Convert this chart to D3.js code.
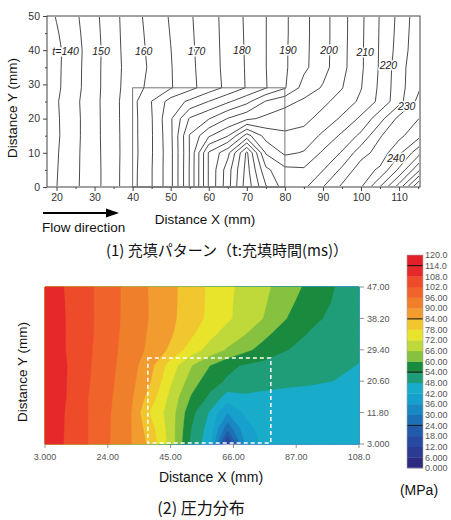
<!DOCTYPE html>
<html><head><meta charset="utf-8">
<script src="https://cdn.jsdelivr.net/npm/d3@7"></script>
<style>body{margin:0;background:#fff}svg{display:block}</style>
</head><body>
<svg id="c" width="451" height="520"></svg>
<script>
// ================= DATA =================
// (1) fill-time field t (ms) on a grid: columns = X (mm), rows = Y (mm), top row first
const fillX = [17.5,20,25,30,35,40,45,50,55,60,65,70,75,80,85,90,95,100,105,110,115.5];
const fillY = [50,45,40,35,29,25,20,15,10,5,0];
const fillTime = [
  [138.3,140.3,144.2,148.8,153.6,158.0,161.9,165.5,169.4,173.0,176.8,180.8,184.9,189.2,193.7,198.1,203.3,209.0,215.3,221.3,228.5],
  [137.8,139.5,143.7,148.5,153.5,157.8,161.5,165.2,169.2,172.9,176.7,180.7,184.9,189.2,193.7,198.1,203.3,209.1,215.4,221.6,228.8],
  [137.3,138.8,143.3,148.2,153.4,157.6,161.2,164.9,169.0,172.8,176.6,180.6,184.9,189.3,193.8,198.1,203.4,209.2,215.5,222.0,229.0],
  [137.4,138.9,143.4,148.4,153.3,157.4,160.9,164.7,168.8,172.7,176.5,180.5,184.9,189.3,193.9,198.2,203.5,209.2,215.6,222.8,229.5],
  [137.7,139.0,143.5,148.4,153.4,157.7,161.6,164.6,168.5,172.5,176.2,180.4,184.7,189.6,197.0,200.5,204.8,209.8,216.0,223.0,229.8],
  [138.0,139.5,144.0,148.6,153.5,158.4,165.1,172.1,176.0,180.1,184.2,188.6,195.4,198.3,200.9,203.8,207.1,211.0,216.3,223.3,232.0],
  [137.8,139.3,143.8,148.5,153.5,158.3,164.7,174.3,185.5,189.7,195.2,198.9,201.2,202.9,203.6,206.8,210.8,216.0,223.1,231.5,235.2],
  [137.8,139.2,143.8,148.5,153.4,158.3,164.6,173.8,190.4,199.3,204.7,217.0,208.0,205.8,206.7,211.0,216.0,221.2,229.6,233.7,239.0],
  [138.0,139.5,144.0,148.4,153.4,158.2,164.6,173.5,190.3,210.5,218.5,236.0,214.5,209.0,210.4,215.8,220.5,227.9,232.2,238.8,249.0],
  [138.0,139.7,144.1,148.3,153.4,158.4,164.8,173.5,190.5,210.5,222.6,237.0,221.2,216.3,215.7,219.8,226.0,232.8,235.8,246.0,260.0],
  [138.0,139.9,144.2,148.3,153.4,158.5,164.8,173.5,190.5,210.5,223.0,238.0,225.5,217.5,219.0,224.9,231.0,234.6,245.2,257.4,276.5]
];
const fillLevels = d3.range(140, 281, 5);
const labelText = ["t=140","150","160","170","180","190","200","210","220","230","240"];
const labelX = [22.4,31.7,42.9,56.8,68.7,80.8,91.6,101.1,107.2,112.0,109.2];
const labelY = [39.6,39.6,39.6,39.6,39.9,39.9,39.9,39.4,35.7,23.7,8.5];
const cavityX = [40, 80];
const cavityY = [0, 29];
const xTicks1 = [20,30,40,50,60,70,80,90,100,110];
const xMinor1 = [25,35,45,55,65,75,85,95,105,115];
const yTicks1 = [0,10,20,30,40,50];
const yMinor1 = [5,15,25,35,45];

// (2) pressure field P (MPa) on a grid: columns = X (mm), rows = Y (mm), top row first
const presX = [3,10,17,24,31,38,45,52,58,64,70,76,84,92,100,108];
const presY = [47,42.6,38.2,33.8,29.4,25,20.6,16.2,11.8,7.4,3];
const pressure = [
  [113,107.4,103.5,98.9,94.1,89.6,85.5,81.0,77.0,73.2,70.2,67.4,62.8,58.1,53.9,52.5],
  [113,107.7,103.5,98.9,94.1,89.7,85.4,80.9,76.9,73.0,69.8,66.8,61.4,56.7,53.4,51.8],
  [113,107.9,103.6,98.8,94.1,89.7,85.3,80.7,76.7,72.9,69.4,65.9,59.9,55.2,52.7,51.0],
  [113,107.9,103.6,98.6,93.8,89.3,84.7,78.9,73.7,69.6,66.1,61.5,56.7,53.4,51.7,50.0],
  [113,107.9,103.3,98.3,93.5,88.8,82.8,75.0,69.8,65.3,61.3,58.0,54.1,52.3,50.7,49.0],
  [113,108.3,103.1,97.9,93.0,86.3,75.0,66.2,60.2,55.5,53.3,52.3,51.0,50.1,49.1,47.8],
  [113,108.2,102.8,97.5,92.7,84.5,72.8,63.0,56.5,53.2,51.7,50.6,49.4,48.6,47.9,46.5],
  [113,108.1,102.3,97.1,92.1,81.6,70.3,59.3,53.0,45.5,47.0,46.3,46.0,46.2,46.6,47.0],
  [113,107.6,102.3,96.8,91.5,77.8,69.0,55.6,47.5,36.0,43.0,44.6,45.0,45.2,45.3,45.5],
  [113,107.5,102.3,96.6,91.3,80.7,69.1,53.8,45.5,26.0,40.0,44.0,44.8,45.0,45.2,45.3],
  [113,107.3,102.3,96.6,91.1,82.6,69.3,52.0,44.5,10.0,36.5,43.5,44.5,45.0,45.2,45.3]
];
const presLevels = d3.range(0, 120, 6);
const presColors = ["#2e2a82","#2b3a93","#27499f","#225ba9","#1d70b5","#1a88c2","#17a0cc","#18abca",
  "#1f9d78","#1a8a3e","#86c240","#bfd83a","#e8e42c","#f1c62e","#f29c30","#f07f2c","#f0632b","#ee4b2a","#e5282a","#e3202a"];
const presXTicks = [3,24,45,66,87,108];
const presXLabels = ["3.000","24.00","45.00","66.00","87.00","108.0"];
const presYTicks = [3,11.8,20.6,29.4,38.2,47];
const presYLabels = ["3.000","11.80","20.60","29.40","38.20","47.00"];
const barValues = d3.range(120, -1, -6);
const barLabels = ["120.0","114.0","108.0","102.0","96.00","90.00","84.00","78.00","72.00","66.00","60.00",
  "54.00","48.00","42.00","36.00","30.00","24.00","18.00","12.00","6.000","0.000"];
const barRules = [24, 54, 84, 114];
const insertX = [37.4, 78.5];
const insertY = [3, 27.1];

// ================= DRAW =================
const svg = d3.select("#c");
const SANS = "'Liberation Sans', Arial, sans-serif";
const CJK = "'Noto Sans CJK JP', 'Noto Sans CJK SC', sans-serif";

function mapper(xs, ys, sx, sy) {
  const ix = d3.scaleLinear().domain(d3.range(xs.length)).range(xs);
  const iy = d3.scaleLinear().domain(d3.range(ys.length)).range(ys);
  const nx = xs.length - 1, ny = ys.length - 1;
  return p => [sx(ix(Math.max(0, Math.min(nx, p[0] - 0.5)))), sy(iy(Math.max(0, Math.min(ny, p[1] - 0.5))))];
}
function geomPath(g, m) {
  return g.coordinates.map(poly => poly.map(ring =>
    "M" + ring.map(p => m(p).map(v => v.toFixed(2)).join(",")).join("L") + "Z").join("")).join("");
}

// ---------- chart 1 ----------
const x1 = d3.scaleLinear().domain([17.5, 115.5]).range([47, 420]);
const y1 = d3.scaleLinear().domain([0, 50]).range([187, 16]);
const defs = svg.append("defs");
defs.append("clipPath").attr("id", "clip1").append("rect")
  .attr("x", x1(17.5) + 1).attr("y", y1(50) + 1)
  .attr("width", x1(115.5) - x1(17.5) - 2).attr("height", y1(0) - y1(50) - 2);

const cont1 = d3.contours().size([fillX.length, fillY.length]).thresholds(fillLevels)(fillTime.flat());
const m1 = mapper(fillX, fillY, x1, y1);
svg.append("g").attr("clip-path", "url(#clip1)")
  .selectAll("path").data(cont1).join("path")
  .attr("d", d => geomPath(d, m1))
  .attr("fill", "none").attr("stroke", "#2b2b2b").attr("stroke-width", 0.85).attr("stroke-linejoin", "round");

// cavity rectangle
svg.append("rect")
  .attr("x", x1(cavityX[0])).attr("y", y1(cavityY[1]))
  .attr("width", x1(cavityX[1]) - x1(cavityX[0])).attr("height", y1(cavityY[0]) - y1(cavityY[1]))
  .attr("fill", "none").attr("stroke", "#666").attr("stroke-width", 0.9);

// contour labels
svg.append("g").selectAll("text").data(labelText).join("text")
  .attr("x", (d, i) => x1(labelX[i])).attr("y", (d, i) => y1(labelY[i]) + 3.8)
  .attr("text-anchor", "middle").attr("font-family", SANS).attr("font-style", "italic")
  .attr("font-size", 10.5).attr("fill", "#222")
  .attr("stroke", "#fff").attr("stroke-width", 3).attr("paint-order", "stroke")
  .text(d => d);

// frame
svg.append("rect").attr("x", x1(17.5)).attr("y", y1(50))
  .attr("width", x1(115.5) - x1(17.5)).attr("height", y1(0) - y1(50))
  .attr("fill", "none").attr("stroke", "#444").attr("stroke-width", 1);

function styleAxis(g, size) {
  g.select(".domain").remove();
  g.selectAll("line").attr("stroke", "#444");
  g.selectAll("text").attr("font-family", SANS).attr("font-size", size).attr("fill", "#333");
}
svg.append("g").attr("transform", `translate(0,${y1(0)})`)
  .call(d3.axisBottom(x1).tickValues(xTicks1).tickSize(4).tickPadding(3))
  .call(g => styleAxis(g, 10.5));
svg.append("g").attr("transform", `translate(0,${y1(0)})`)
  .call(d3.axisBottom(x1).tickValues(xMinor1).tickSize(2).tickFormat(""))
  .call(g => styleAxis(g, 10.5));
svg.append("g").attr("transform", `translate(${x1(17.5)},0)`)
  .call(d3.axisLeft(y1).tickValues(yTicks1).tickSize(4).tickPadding(3))
  .call(g => styleAxis(g, 10.5));
svg.append("g").attr("transform", `translate(${x1(17.5)},0)`)
  .call(d3.axisLeft(y1).tickValues(yMinor1).tickSize(2).tickFormat(""))
  .call(g => styleAxis(g, 10.5));

svg.append("text").attr("transform", "translate(17,108) rotate(-90)")
  .attr("text-anchor", "middle").attr("font-family", SANS).attr("font-size", 13.5).attr("fill", "#111")
  .text("Distance Y (mm)");
svg.append("text").attr("x", 205).attr("y", 224)
  .attr("text-anchor", "middle").attr("font-family", SANS).attr("font-size", 13.5).attr("fill", "#111")
  .text("Distance X (mm)");
// flow direction arrow
svg.append("line").attr("x1", 43).attr("y1", 213).attr("x2", 108).attr("y2", 213)
  .attr("stroke", "#000").attr("stroke-width", 2);
svg.append("path").attr("d", "M106,208.5L119,213L106,217.5Z").attr("fill", "#000");
svg.append("text").attr("x", 42).attr("y", 232)
  .attr("font-family", SANS).attr("font-size", 13.5).attr("fill", "#111")
  .text("Flow direction");
svg.append("text").attr("x", 227).attr("y", 256)
  .attr("text-anchor", "middle").attr("font-family", CJK).attr("font-size", 15).attr("fill", "#111")
  .text("(1) 充填パターン（t:充填時間(ms)）");

// ---------- chart 2 ----------
const x2 = d3.scaleLinear().domain([3, 108]).range([45, 359]);
const y2 = d3.scaleLinear().domain([3, 47]).range([444, 287]);
const cont2 = d3.contours().size([presX.length, presY.length]).thresholds(presLevels)(pressure.flat());
const m2 = mapper(presX, presY, x2, y2);
svg.append("g").selectAll("path").data(cont2).join("path")
  .attr("d", d => geomPath(d, m2))
  .attr("fill", d => presColors[Math.round(d.value / 6)])
  .attr("stroke", d => presColors[Math.round(d.value / 6)]).attr("stroke-width", 0.4);

svg.append("rect")
  .attr("x", x2(insertX[0])).attr("y", y2(insertY[1]))
  .attr("width", x2(insertX[1]) - x2(insertX[0])).attr("height", y2(insertY[0]) - y2(insertY[1]) - 1)
  .attr("fill", "none").attr("stroke", "#fff").attr("stroke-width", 1.6).attr("stroke-dasharray", "4,3");

// bottom ticks & labels
const gx2 = svg.append("g");
gx2.selectAll("line").data(presXTicks).join("line")
  .attr("x1", d => x2(d)).attr("x2", d => x2(d)).attr("y1", 444).attr("y2", 448)
  .attr("stroke", "#777").attr("stroke-width", 0.8);
gx2.selectAll("text").data(presXLabels).join("text")
  .attr("x", (d, i) => x2(presXTicks[i])).attr("y", 460)
  .attr("text-anchor", "middle").attr("font-family", SANS).attr("font-size", 9)
  .attr("fill", "#555")
  .text(d => d);
// right ticks & labels
const gy2 = svg.append("g");
gy2.selectAll("line").data(presYTicks).join("line")
  .attr("x1", 359).attr("x2", 364).attr("y1", d => y2(d)).attr("y2", d => y2(d))
  .attr("stroke", "#777").attr("stroke-width", 0.8);
gy2.selectAll("text").data(presYLabels).join("text")
  .attr("x", 367).attr("y", (d, i) => y2(presYTicks[i]) + 3.2)
  .attr("font-family", SANS).attr("font-size", 9)
  .attr("fill", "#555")
  .text(d => d);

svg.append("text").attr("transform", "translate(27,372) rotate(-90)")
  .attr("text-anchor", "middle").attr("font-family", SANS).attr("font-size", 13.5).attr("fill", "#111")
  .text("Distance Y (mm)");
svg.append("text").attr("x", 211).attr("y", 482)
  .attr("text-anchor", "middle").attr("font-family", SANS).attr("font-size", 14).attr("fill", "#111")
  .text("Distance X (mm)");
svg.append("text").attr("x", 201).attr("y", 514)
  .attr("text-anchor", "middle").attr("font-family", CJK).attr("font-size", 16).attr("fill", "#111")
  .text("(2) 圧力分布");

// colour bar
const cb = d3.scaleLinear().domain([0, 120]).range([468, 255]);
const gb = svg.append("g");
gb.selectAll("rect").data(presLevels).join("rect")
  .attr("x", 407).attr("width", 16)
  .attr("y", d => cb(d + 6)).attr("height", d => cb(d) - cb(d + 6) + 0.3)
  .attr("fill", (d, i) => presColors[i]);
gb.selectAll("line.rule").data(barRules).join("line").attr("class", "rule")
  .attr("x1", 407).attr("x2", 423).attr("y1", d => cb(d)).attr("y2", d => cb(d))
  .attr("stroke", "#111").attr("stroke-width", 1);
gb.append("rect").attr("x", 407).attr("y", cb(120)).attr("width", 16).attr("height", cb(0) - cb(120))
  .attr("fill", "none").attr("stroke", "#aaa").attr("stroke-width", 0.6);
gb.selectAll("text").data(barLabels).join("text")
  .attr("x", 425).attr("y", (d, i) => cb(barValues[i]) + 3.2)
  .attr("font-family", SANS).attr("font-size", 9)
  .attr("fill", "#555")
  .text(d => d);
svg.append("text").attr("x", 419).attr("y", 495)
  .attr("text-anchor", "middle").attr("font-family", SANS).attr("font-size", 14).attr("fill", "#111")
  .text("(MPa)");
</script>
</body></html>
